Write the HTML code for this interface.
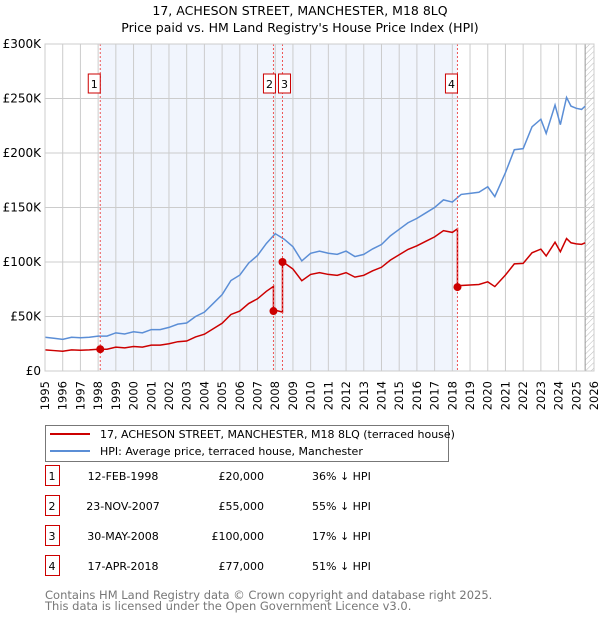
<!DOCTYPE html>
<html><head><meta charset="utf-8"><style>
body{margin:0;background:#fff;font-family:"Liberation Sans","DejaVu Sans",sans-serif;}
svg text{font-family:"DejaVu Sans","Liberation Sans",sans-serif;}
</style></head><body>
<svg width="600" height="620" xmlns="http://www.w3.org/2000/svg">
<defs><pattern id="hatch" width="4" height="4" patternUnits="userSpaceOnUse" patternTransform="rotate(45)"><line x1="0" y1="0" x2="0" y2="4" stroke="#bbb" stroke-width="1"/></pattern></defs>
<text x="300" y="15" text-anchor="middle" font-size="12.5" fill="#000">17, ACHESON STREET, MANCHESTER, M18 8LQ</text>
<text x="300" y="32" text-anchor="middle" font-size="12.5" fill="#000">Price paid vs. HM Land Registry's House Price Index (HPI)</text>
<g id="plot"></g>
<g>
<rect x="45.5" y="425.5" width="403" height="36" fill="#fff" stroke="#777"/>
<line x1="50" y1="434" x2="90" y2="434" stroke="#cc0000" stroke-width="2"/>
<text x="100" y="438" font-size="11">17, ACHESON STREET, MANCHESTER, M18 8LQ (terraced house)</text>
<line x1="50" y1="451" x2="90" y2="451" stroke="#5b8ed6" stroke-width="2"/>
<text x="100" y="455" font-size="11">HPI: Average price, terraced house, Manchester</text>
</g>
<g id="table" font-size="11"></g>
<text x="45" y="599" font-size="11.5" fill="#777">Contains HM Land Registry data © Crown copyright and database right 2025.</text>
<text x="45" y="610" font-size="11.5" fill="#777">This data is licensed under the Open Government Licence v3.0.</text>
</svg>
<script>
const hpiYears=[1995,1995.5,1996,1996.5,1997,1997.5,1998,1998.5,1999,1999.5,2000,2000.5,2001,2001.5,2002,2002.5,2003,2003.5,2004,2004.5,2005,2005.5,2006,2006.5,2007,2007.5,2008,2008.5,2009,2009.5,2010,2010.5,2011,2011.5,2012,2012.5,2013,2013.5,2014,2014.5,2015,2015.5,2016,2016.5,2017,2017.5,2018,2018.5,2019,2019.5,2020,2020.4,2021,2021.5,2022,2022.5,2023,2023.3,2023.8,2024.1,2024.45,2024.7,2025,2025.3,2025.5];
const hpiValues=[31,30,29,31,30.5,31,32,32,35,34,36,35,38,38,40,43,44,50,54,62,70,83,88,99,106,117,126,121,114,101,108,110,108,107,110,105,107,112,116,124,130,136,140,145,150,157,155,162,163,164,169,160,182,203,204,224,231,218,244,226,251,243,241,240,243];
const saleYears=[1998.12,2007.9,2008.41,2018.29];
const salePrices=[20000,55000,100000,77000];
const saleLabels=["1","2","3","4"];
const saleDates=["12-FEB-1998","23-NOV-2007","30-MAY-2008","17-APR-2018"];
const salePriceText=["£20,000","£55,000","£100,000","£77,000"];
const saleHpiText=["36% ↓ HPI","55% ↓ HPI","17% ↓ HPI","51% ↓ HPI"];
const yTicks=[0,50,100,150,200,250,300];
const yTickLabels=["£0","£50K","£100K","£150K","£200K","£250K","£300K"];
const xTicks=[1995,1996,1997,1998,1999,2000,2001,2002,2003,2004,2005,2006,2007,2008,2009,2010,2011,2012,2013,2014,2015,2016,2017,2018,2019,2020,2021,2022,2023,2024,2025,2026];

const X0=45,X1=594,Y0=371,Y1=44;
const xs=y=>X0+(y-1995)/31*(X1-X0);
const ys=v=>Y0-v/300*(Y0-Y1);
const NS="http://www.w3.org/2000/svg";
function mk(tag,attrs,parent){const e=document.createElementNS(NS,tag);for(const k in attrs)e.setAttribute(k,attrs[k]);parent.appendChild(e);return e;}
const plot=document.getElementById('plot');
let r=mk('rect',{x:xs(saleYears[0]),y:Y1,width:xs(saleYears[3])-xs(saleYears[0]),height:Y0-Y1,fill:'#eef3fc',opacity:0.8},plot);


r=mk('rect',{x:xs(2025.5),y:Y1,width:X1-xs(2025.5),height:Y0-Y1,fill:'url(#hatch)'},plot);


xTicks.forEach(t=>{
 const l=mk('line',{x1:xs(t),x2:xs(t),y1:Y1,y2:Y0,stroke:'#ccc','stroke-width':1},plot);
 
 
 const tx=mk('text',{x:0,y:0,'font-size':11.5,'text-anchor':'end',transform:`translate(${xs(t)+4},${Y0+10}) rotate(-90)`},plot);
 tx.textContent=t;
 
 
});
const hl=mk('line',{x1:xs(2025.5),x2:xs(2025.5),y1:Y1,y2:Y0,stroke:'#999','stroke-width':1},plot);


yTicks.forEach((t,i)=>{
 const l=mk('line',{x1:X0,x2:X1,y1:ys(t),y2:ys(t),stroke:'#ccc','stroke-width':1},plot);
 
 
 const tx=mk('text',{x:X0-4,y:ys(t)+4,'font-size':12,'text-anchor':'end'},plot);
 tx.textContent=yTickLabels[i];
 
 
});
let p=mk('polyline',{points:hpiYears.map((y,i)=>xs(y)+','+ys(hpiValues[i])).join(' '),fill:'none',stroke:'#5b8ed6','stroke-width':1.5},plot);


function hpiAt(y){for(let i=0;i<hpiYears.length-1;i++){if(y<=hpiYears[i+1]){const f=(y-hpiYears[i])/(hpiYears[i+1]-hpiYears[i]);return hpiValues[i]+f*(hpiValues[i+1]-hpiValues[i]);}}return hpiValues[hpiValues.length-1];}
const pts=[];
function ratioFor(y){let k=0;for(let i=0;i<saleYears.length;i++)if(y>=saleYears[i])k=i;return salePrices[k]/1000/hpiAt(saleYears[k]);}
const allX=hpiYears.concat(saleYears).sort((a,b)=>a-b);
allX.forEach(y=>{
 saleYears.forEach((s,i)=>{if(Math.abs(y-s)<1e-9&&i>0){pts.push([y,hpiAt(y)*ratioFor(y-0.001)]);}});
 pts.push([y,hpiAt(y)*ratioFor(y)]);
});
p=mk('polyline',{points:pts.map(q=>xs(q[0])+','+ys(q[1])).join(' '),fill:'none',stroke:'#cc0000','stroke-width':1.5},plot);


saleYears.forEach((s,i)=>{
 const l=mk('line',{x1:xs(s),x2:xs(s),y1:Y1,y2:Y0,stroke:'#e55','stroke-width':1,'stroke-dasharray':'2,2'},plot);
 
 
 const c=mk('circle',{cx:xs(s),cy:ys(salePrices[i]/1000),r:4,fill:'#cc0000'},plot);
 
 
 const b=mk('rect',{x:(i==1?xs(s)-10:i==2?xs(s)-4:xs(s)-12),y:74,width:12,height:19,fill:'#fff',stroke:'#cc0000'},plot);
 
 
 const t=mk('text',{x:(i==1?xs(s)-4:i==2?xs(s)+2:xs(s)-6),y:88,'font-size':11,'text-anchor':'middle'},plot);
 t.textContent=saleLabels[i];
 
 
});
mk('rect',{x:X0,y:Y1,width:X1-X0,height:Y0-Y1,fill:'none',stroke:'#ccc'},plot);
const tb=document.getElementById('table');
saleLabels.forEach((lab,i)=>{
 const y=483+i*30;
 const b=mk('rect',{x:45.5,y:y-17.5,width:14,height:20,fill:'#fff',stroke:'#cc0000'},tb);
 
 
 const vals=[[52,lab,'middle'],[123,saleDates[i],'middle'],[264,salePriceText[i],'end'],[312,saleHpiText[i],'start']];
 vals.forEach(v=>{const t=mk('text',{x:v[0],y:y-3,'text-anchor':v[2],'font-size':11},tb);t.textContent=v[1];
 
 });
});
</script>
</body></html>
